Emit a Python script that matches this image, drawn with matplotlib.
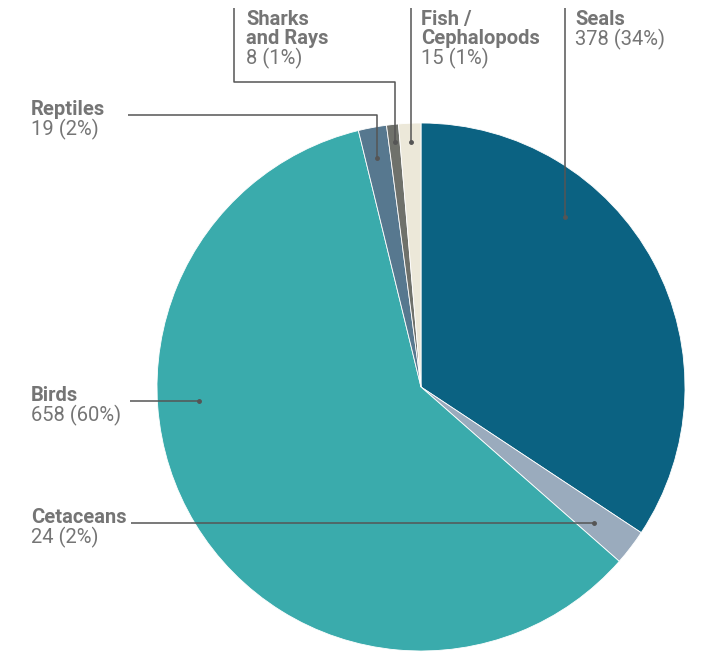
import matplotlib
matplotlib.use('Agg')
import matplotlib.pyplot as plt

# data
categories = ['Seals', 'Cetaceans', 'Birds', 'Reptiles', 'Sharks\nand Rays', 'Fish /\nCephalopods']
counts = [378, 24, 658, 19, 8, 15]
colors = ['#0b6282', '#9aabbd', '#3aabac', '#57788f', '#6f716b', '#ece8d9']

W, H = 703, 652
plt.rcParams['font.family'] = ['Roboto', 'DejaVu Sans']

fig = plt.figure(figsize=(W / 100, H / 100), dpi=100)
ax = fig.add_axes([0, 0, 1, 1])


def fy(y):
    # pixel row (from top) to axes y
    return H - y


ax.pie(counts, colors=colors, startangle=90, counterclock=False,
       center=(421, fy(387)), radius=264, frame=True,
       wedgeprops=dict(edgecolor='white', linewidth=0.6))
ax.set_xlim(0, W)
ax.set_ylim(0, H)
ax.axis('off')

total = sum(counts)
txt_col = '#757575'
line_col = '#555555'
fs = 14.5
step = 19.5

# label layout: text x, first baseline, leader path (pixel coords)
layout = {
    'Seals': (575, 25, [(565, 8), (565, 217)]),
    'Fish /\nCephalopods': (421, 25, [(411, 8), (411, 142)]),
    'Sharks\nand Rays': (246, 25, [(234, 8), (234, 82), (395, 82), (395, 142)]),
    'Reptiles': (31, 115, [(128, 115), (377, 115), (377, 158)]),
    'Birds': (31, 401, [(130, 401), (199, 401)]),
    'Cetaceans': (31, 523, [(131, 523), (594, 523)]),
}

for name, n in zip(categories, counts):
    tx, base, path = layout[name]
    lines = name.split('\n')
    for i, ln in enumerate(lines):
        ax.text(tx, fy(base + i * step), ln, fontsize=fs, fontweight='bold',
                color=txt_col, va='baseline', ha='left')
    pct = round(100 * n / total)
    ax.text(tx, fy(base + len(lines) * step + 0.5), f'{n} ({pct}%)', fontsize=fs,
            color=txt_col, va='baseline', ha='left')
    xs = [p[0] for p in path]
    ys = [fy(p[1]) for p in path]
    ax.plot(xs, ys, color=line_col, lw=1.1, solid_capstyle='butt')
    ax.plot(xs[-1], ys[-1], 'o', color=line_col, ms=2.5)

fig.savefig('out.png', dpi=100)
